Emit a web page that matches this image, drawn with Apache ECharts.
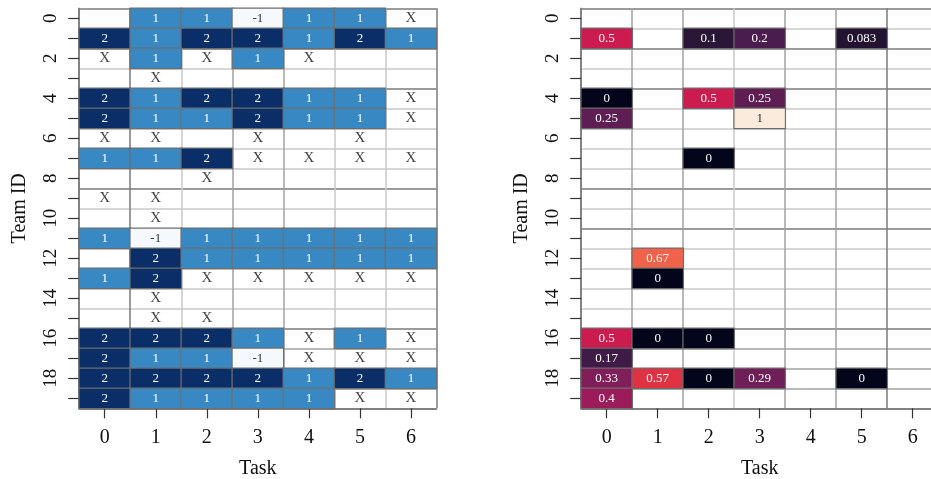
<!DOCTYPE html>
<html>
<head>
<meta charset="utf-8">
<script src="https://cdn.jsdelivr.net/npm/echarts@6/dist/echarts.min.js"></script>
<style>html,body{margin:0;padding:0;background:#fff}#c{width:931px;height:479px}</style>
</head>
<body>
<div id="c"></div>
<script>
// ---------- data ----------
const tasks = ['0', '1', '2', '3', '4', '5', '6'];
const teams = ['0','1','2','3','4','5','6','7','8','9','10','11','12','13','14','15','16','17','18','19'];

// left panel: outcome per team (row) and task (column); '' = empty, 'X' = marked
const outcomeGrid = [
  ['', 1, 1, -1, 1, 1, 'X'],
  [2, 1, 2, 2, 1, 2, 1],
  ['X', 1, 'X', 1, 'X', '', ''],
  ['', 'X', '', '', '', '', ''],
  [2, 1, 2, 2, 1, 1, 'X'],
  [2, 1, 1, 2, 1, 1, 'X'],
  ['X', 'X', '', 'X', '', 'X', ''],
  [1, 1, 2, 'X', 'X', 'X', 'X'],
  ['', '', 'X', '', '', '', ''],
  ['X', 'X', '', '', '', '', ''],
  ['', 'X', '', '', '', '', ''],
  [1, -1, 1, 1, 1, 1, 1],
  ['', 2, 1, 1, 1, 1, 1],
  [1, 2, 'X', 'X', 'X', 'X', 'X'],
  ['', 'X', '', '', '', '', ''],
  ['', 'X', 'X', '', '', '', ''],
  [2, 2, 2, 1, 'X', 1, 'X'],
  [2, 1, 1, -1, 'X', 'X', 'X'],
  [2, 2, 2, 2, 1, 2, 1],
  [2, 1, 1, 1, 1, 'X', 'X']
];

// right panel: rate values
const rateTeam  = [1, 1, 1, 1, 4, 4, 4, 5, 5, 7, 12, 13, 16, 16, 16, 17, 18, 18, 18, 18, 18, 19];
const rateTask  = [0, 2, 3, 5, 0, 2, 3, 0, 3, 2, 1, 1, 0, 1, 2, 0, 0, 1, 2, 3, 5, 0];
const rateValue = [0.5, 0.1, 0.2, 0.083, 0, 0.5, 0.25, 0.25, 1, 0, 0.67, 0, 0.5, 0, 0, 0.17, 0.33, 0.57, 0, 0.29, 0, 0.4];

// ---------- build series data ----------
const outcomeCells = [];
const markCells = [];
outcomeGrid.forEach((row, r) => {
  row.forEach((v, c) => {
    if (v === 'X') markCells.push([c, r]);
    else if (v !== '') outcomeCells.push([c, r, v]);
  });
});
const rateCells = rateValue.map((v, i) => [rateTask[i], rateTeam[i], v]);

// ---------- styles ----------
const SERIF = 'Liberation Serif';
const D = '#7a7a7a', M = '#a2a2a2', L = '#c8c8c8';
const hLines = [D, L, D, L, D, L, L, L, L, D, L, D, L, L, L, L, D, M, M, M, D];
const vLinesLeft = [D, D, L, M, M, L, L, D];
const vLinesRight = [D, M, M, L, M, M, D, D];
const rocket = ['#03051a', '#2a1636', '#4a1d4e', '#731f58', '#9c1b5b', '#cb1b4f',
                '#e83e3f', '#f3714d', '#f6a07a', '#f7c5a5', '#faebdd'];

function xAxisCfg(gi, vcols) {
  return {
    type: 'category', gridIndex: gi, data: tasks, position: 'bottom',
    name: 'Task', nameLocation: 'middle', nameGap: 50,
    nameTextStyle: { fontFamily: SERIF, fontSize: 20, color: '#111' },
    axisLine: { show: true, lineStyle: { color: '#7a7a7a', width: 1.5 } },
    axisTick: { show: true, alignWithLabel: true, interval: 0, length: 10, lineStyle: { color: '#333', width: 1.2 } },
    axisLabel: { interval: 0, margin: 19, fontFamily: SERIF, fontSize: 20, color: '#111' },
    splitLine: { show: true, interval: 0, lineStyle: { color: vcols, width: 1.5 } }
  };
}
function yAxisCfg(gi, nameGap) {
  return {
    type: 'category', gridIndex: gi, data: teams, inverse: true,
    name: 'Team ID', nameLocation: 'middle', nameGap: nameGap, nameRotate: 90,
    nameTextStyle: { fontFamily: SERIF, fontSize: 20, color: '#111' },
    axisLine: { show: true, lineStyle: { color: '#7a7a7a', width: 1.5 } },
    axisTick: { show: true, alignWithLabel: true, interval: 0, length: 11, lineStyle: { color: '#333', width: 1.2 } },
    axisLabel: { interval: 1, rotate: 90, margin: 19, fontFamily: SERIF, fontSize: 19, color: '#111' },
    splitLine: { show: true, interval: 0, lineStyle: { color: hLines, width: 1.5 } }
  };
}

const chart = echarts.init(document.getElementById('c'), null, { renderer: 'canvas' });
chart.setOption({
  animation: false,
  backgroundColor: '#fff',
  grid: [
    { left: 79.2, top: 8.3, width: 357.3, height: 400, containLabel: false, outerBoundsMode: 'none' },
    { left: 581.2, top: 8.3, width: 357, height: 400, containLabel: false, outerBoundsMode: 'none' }
  ],
  xAxis: [xAxisCfg(0, vLinesLeft), xAxisCfg(1, vLinesRight)],
  yAxis: [yAxisCfg(0, 49), yAxisCfg(1, 49)],
  visualMap: [
    {
      type: 'piecewise', show: false, seriesIndex: 0, dimension: 2,
      pieces: [
        { value: -1, color: '#f5f9fe' },
        { value: 1, color: '#3888c3' },
        { value: 2, color: '#0a2f68' }
      ]
    },
    {
      type: 'continuous', show: false, seriesIndex: 2, dimension: 2,
      min: 0, max: 1, inRange: { color: rocket }
    }
  ],
  series: [
    {
      type: 'heatmap', xAxisIndex: 0, yAxisIndex: 0, data: outcomeCells,
      itemStyle: { borderColor: '#6e6e6e', borderWidth: 1.2 },
      label: {
        show: true,
        formatter: p => (p.value[2] < 0 ? '{d|' : '{w|') + p.value[2] + '}',
        rich: {
          w: { color: '#fff', fontFamily: SERIF, fontSize: 13 },
          d: { color: '#333', fontFamily: SERIF, fontSize: 13 }
        }
      },
      emphasis: { disabled: true }
    },
    {
      type: 'scatter', xAxisIndex: 0, yAxisIndex: 0, data: markCells,
      symbolSize: 1, itemStyle: { color: 'rgba(0,0,0,0)' },
      label: { show: true, position: 'inside', formatter: 'X', color: '#111', fontFamily: SERIF, fontSize: 15 },
      emphasis: { disabled: true }
    },
    {
      type: 'heatmap', xAxisIndex: 1, yAxisIndex: 1, data: rateCells,
      itemStyle: { borderColor: '#6e6e6e', borderWidth: 1.2 },
      label: {
        show: true,
        formatter: p => (p.value[2] > 0.85 ? '{d|' : '{w|') + p.value[2] + '}',
        rich: {
          w: { color: '#fff', fontFamily: SERIF, fontSize: 13 },
          d: { color: '#333', fontFamily: SERIF, fontSize: 13 }
        }
      },
      emphasis: { disabled: true }
    }
  ]
});
</script>
</body>
</html>
